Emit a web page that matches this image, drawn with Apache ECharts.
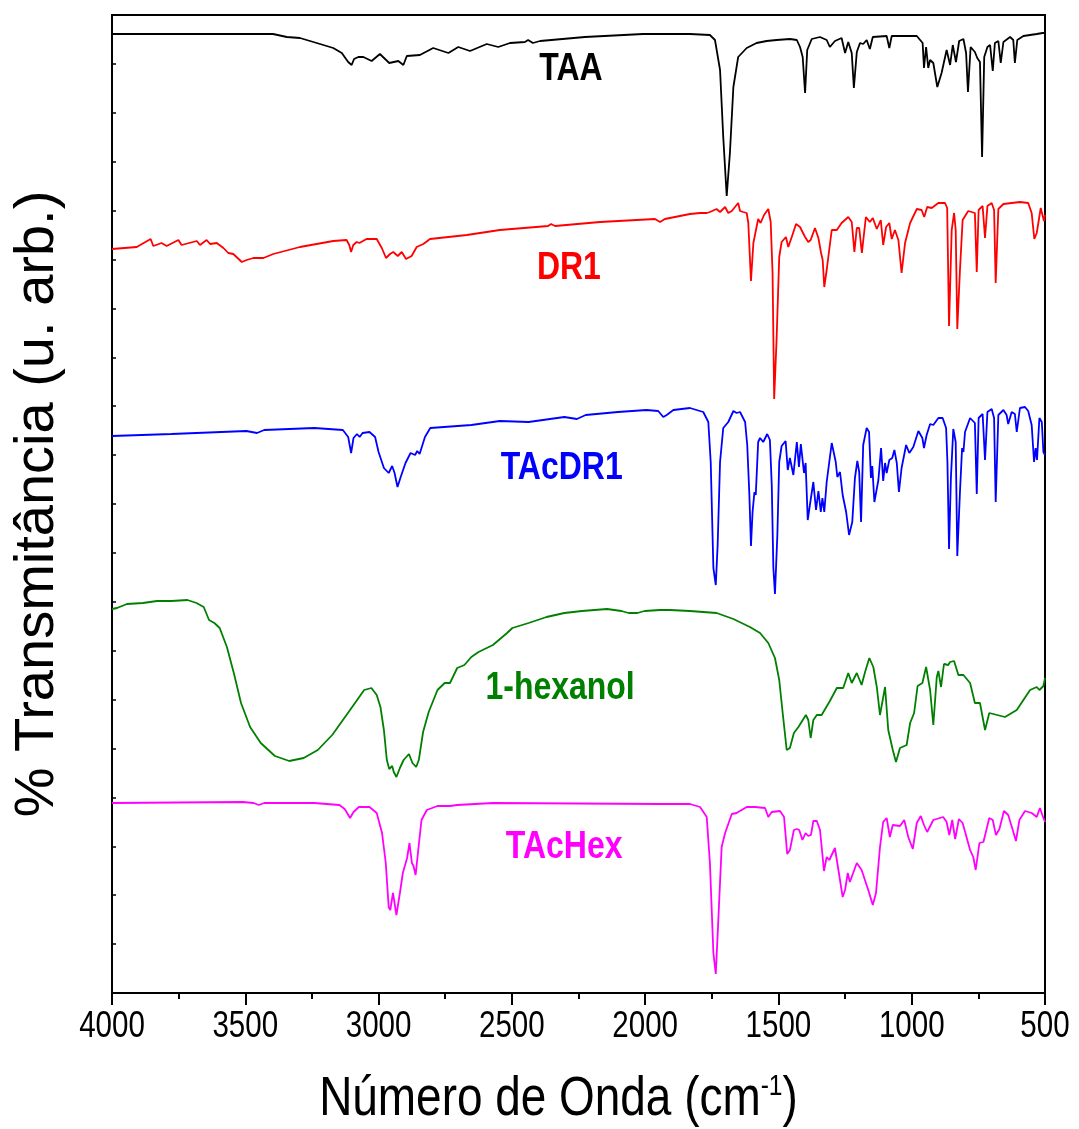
<!DOCTYPE html>
<html>
<head>
<meta charset="utf-8">
<script src="https://cdn.jsdelivr.net/npm/echarts@6/dist/echarts.min.js"></script>
<style>
  html, body { margin: 0; padding: 0; background: #fff; }
  #chart { width: 1079px; height: 1129px; }
</style>
</head>
<body>
<div id="chart"></div>
<script>
// espectros FTIR, [número de onda, transmitância (u. arb., já deslocada)]
const taa = [[4000,959],[3396,959],[3344,956],[3295,955],[3232,950],[3170,945],[3138,940],[3114,931],[3101,928],[3092,934],[3076,936],[3057,936],[3026,932],[2995,939],[2960,930],[2926,932],[2907,928],[2894,937],[2845,938],[2795,945],[2738,940],[2701,946],[2657,942],[2594,949],[2551,946],[2507,950],[2451,951],[2439,953],[2421,950],[2394,952],[2226,956],[2008,959],[1832,959],[1757,958],[1738,953],[1719,923],[1707,856],[1694,797],[1682,840],[1669,906],[1651,936],[1619,945],[1582,950],[1544,952],[1507,953],[1457,954],[1431,953],[1419,946],[1409,936],[1400,900],[1392,943],[1375,954],[1344,956],[1319,953],[1307,946],[1288,952],[1263,955],[1250,940],[1238,951],[1225,940],[1217,905],[1206,941],[1194,950],[1182,949],[1169,953],[1157,944],[1146,956],[1094,957],[1084,945],[1075,957],[981,957],[959,950],[954,925],[946,946],[938,925],[931,933],[919,930],[904,906],[888,920],[869,943],[856,928],[846,948],[834,931],[822,952],[806,954],[796,940],[789,901],[779,946],[763,941],[754,935],[744,931],[736,836],[728,936],[716,946],[706,948],[696,922],[688,950],[675,952],[666,930],[656,951],[631,956],[619,953],[613,930],[604,953],[581,957],[531,959],[509,960],[500,960]]

const dr1 = [[4000,744],[3907,746],[3855,754],[3845,747],[3814,750],[3795,747],[3751,753],[3739,748],[3682,752],[3670,748],[3645,753],[3632,749],[3607,750],[3582,745],[3564,740],[3545,739],[3513,731],[3495,733],[3470,735],[3432,735],[3395,739],[3295,746],[3170,752],[3120,753],[3110,748],[3103,741],[3095,748],[3082,751],[3072,750],[3045,754],[3007,754],[2988,745],[2972,735],[2957,739],[2945,741],[2928,737],[2913,741],[2897,734],[2876,737],[2857,746],[2832,749],[2807,754],[2669,758],[2545,763],[2364,767],[2353,769],[2338,767],[2169,771],[1963,774],[1944,771],[1926,774],[1832,779],[1794,780],[1769,780],[1757,781],[1732,784],[1719,781],[1700,786],[1688,780],[1675,782],[1651,790],[1644,782],[1632,781],[1619,780],[1613,770],[1603,712],[1594,750],[1588,750],[1576,774],[1567,770],[1554,778],[1538,784],[1529,771],[1522,720],[1516,594],[1507,653],[1497,736],[1488,751],[1472,756],[1463,746],[1450,756],[1434,769],[1419,766],[1400,756],[1388,751],[1379,753],[1363,765],[1350,755],[1340,740],[1334,733],[1328,706],[1319,723],[1300,763],[1281,763],[1263,770],[1238,776],[1225,771],[1215,741],[1206,765],[1197,765],[1187,740],[1172,776],[1157,771],[1146,775],[1131,764],[1116,773],[1107,748],[1096,766],[1084,770],[1075,754],[1063,763],[1050,753],[1038,720],[1025,750],[1006,770],[981,784],[963,783],[953,776],[942,786],[925,785],[900,790],[875,790],[867,785],[860,667],[850,763],[841,780],[835,763],[829,664],[819,723],[809,773],[788,782],[763,780],[756,721],[749,783],[734,787],[725,755],[716,787],[700,790],[691,783],[685,710],[675,784],[656,789],[594,791],[563,790],[550,780],[540,754],[531,760],[516,785],[504,772],[500,778]]

const tacdr1 = [[4000,557],[3777,559],[3496,562],[3456,560],[3429,563],[3241,565],[3134,563],[3114,556],[3103,540],[3094,555],[3081,559],[3071,556],[3060,560],[3034,561],[3013,556],[3000,541],[2980,525],[2962,520],[2949,527],[2940,520],[2929,506],[2917,516],[2899,530],[2880,540],[2873,542],[2863,538],[2855,542],[2846,539],[2826,556],[2806,565],[2652,568],[2545,572],[2437,571],[2303,576],[2256,574],[2223,578],[2102,581],[1995,583],[1951,582],[1932,576],[1919,578],[1913,576],[1894,583],[1832,585],[1782,581],[1763,571],[1754,531],[1744,425],[1735,408],[1728,448],[1719,531],[1707,565],[1688,571],[1669,582],[1657,580],[1644,581],[1625,571],[1617,548],[1609,498],[1603,447],[1597,481],[1590,501],[1585,498],[1576,551],[1569,555],[1557,551],[1542,559],[1532,553],[1525,508],[1519,425],[1513,399],[1504,458],[1497,531],[1488,547],[1482,546],[1473,552],[1465,523],[1457,535],[1444,518],[1431,551],[1423,526],[1416,549],[1404,520],[1398,530],[1390,473],[1382,488],[1369,511],[1359,483],[1350,502],[1341,481],[1335,495],[1328,481],[1319,511],[1300,550],[1285,531],[1279,516],[1269,521],[1259,498],[1246,481],[1235,458],[1223,471],[1213,515],[1204,532],[1197,521],[1190,471],[1182,548],[1169,565],[1160,561],[1153,515],[1148,527],[1140,491],[1125,513],[1115,545],[1107,512],[1100,530],[1094,520],[1084,533],[1073,535],[1065,543],[1056,530],[1048,501],[1038,525],[1021,548],[1009,540],[994,546],[975,562],[960,555],[954,545],[944,558],[931,569],[919,568],[900,575],[884,575],[871,565],[866,531],[860,444],[853,515],[844,564],[835,551],[829,437],[819,501],[811,545],[806,541],[800,561],[781,575],[763,570],[756,499],[749,575],[734,579],[725,533],[716,581],[700,584],[691,575],[685,491],[675,578],[656,583],[644,578],[638,569],[625,581],[613,579],[606,561],[594,585],[575,586],[563,582],[550,568],[541,531],[535,545],[530,533],[521,575],[512,571],[506,541],[500,538]]

const hexanol = [[4000,384],[3981,385],[3944,389],[3884,390],[3831,392],[3777,392],[3717,393],[3683,390],[3656,386],[3636,373],[3616,370],[3596,365],[3569,346],[3543,320],[3516,290],[3482,266],[3442,250],[3389,237],[3335,232],[3281,235],[3228,243],[3174,258],[3107,283],[3054,303],[3027,305],[3007,298],[2993,286],[2980,263],[2969,233],[2960,224],[2949,227],[2943,221],[2933,216],[2920,225],[2906,233],[2886,239],[2873,230],[2859,226],[2849,233],[2833,261],[2812,281],[2779,303],[2752,310],[2732,310],[2705,325],[2678,328],[2652,336],[2625,341],[2571,348],[2518,360],[2498,365],[2437,370],[2370,376],[2303,380],[2237,382],[2143,384],[2089,382],[2062,380],[2029,380],[2002,382],[1944,383],[1907,383],[1832,382],[1732,380],[1669,374],[1607,366],[1569,360],[1538,350],[1513,335],[1497,313],[1484,280],[1469,243],[1457,245],[1442,260],[1425,266],[1397,278],[1388,273],[1379,255],[1369,273],[1356,278],[1338,278],[1307,292],[1281,305],[1257,305],[1238,320],[1225,310],[1206,320],[1188,308],[1175,321],[1159,335],[1144,326],[1131,306],[1119,278],[1100,306],[1088,263],[1071,243],[1059,231],[1044,245],[1019,248],[1006,270],[991,280],[978,307],[960,310],[946,326],[931,303],[919,268],[906,316],[900,322],[890,306],[879,329],[863,328],[856,331],[841,332],[825,318],[806,318],[781,310],[763,290],[744,290],[725,263],[709,280],[650,276],[606,283],[556,303],[531,306],[521,303],[506,307],[500,315]]

const tachex = [[4000,190],[3509,191],[3469,190],[3449,188],[3429,190],[3241,190],[3147,188],[3127,184],[3107,175],[3094,181],[3074,186],[3034,186],[3007,180],[2987,160],[2973,130],[2962,86],[2956,83],[2946,100],[2933,78],[2920,100],[2909,120],[2893,135],[2884,150],[2875,130],[2869,127],[2861,118],[2850,146],[2839,173],[2819,183],[2779,187],[2732,187],[2705,188],[2571,190],[1944,189],[1832,189],[1794,186],[1769,176],[1757,130],[1744,40],[1735,19],[1726,70],[1713,146],[1700,160],[1675,179],[1657,180],[1619,186],[1588,186],[1550,185],[1538,176],[1525,181],[1494,182],[1479,176],[1467,139],[1457,143],[1442,163],[1431,164],[1422,163],[1410,153],[1398,160],[1388,157],[1378,158],[1369,172],[1356,172],[1344,163],[1329,122],[1319,136],[1309,133],[1288,145],[1275,123],[1259,96],[1250,103],[1240,120],[1232,111],[1206,130],[1188,123],[1163,103],[1146,88],[1134,100],[1119,146],[1107,171],[1094,175],[1082,156],[1071,168],[1044,167],[1028,173],[1013,156],[996,144],[981,170],[966,177],[954,168],[942,161],[919,173],[882,176],[869,171],[859,158],[848,173],[837,154],[823,174],[809,170],[781,143],[769,136],[760,123],[746,150],[731,151],[709,175],[696,173],[684,158],[671,164],[654,182],[638,178],[621,163],[609,152],[596,173],[575,182],[550,180],[531,176],[519,185],[510,178],[500,171]]

const seriesNames = ['TAA', 'DR1', 'TAcDR1', '1-hexanol', 'TAcHex']
const seriesColors = ['#000000', '#ff0000', '#0000ff', '#008000', '#ff00ff']
const seriesData = [taa, dr1, tacdr1, hexanol, tachex]

// posição dos rótulos (número de onda, valor)
const labelPos = [[2278, 924], [2286, 725], [2313, 525], [2319, 305], [2304, 146]]

const xTickValues = [4000, 3500, 3000, 2500, 2000, 1500, 1000, 500]
const yRange = { min: 0, max: 978, step: 48.9 }

const FONT = "'Liberation Sans', Arial, sans-serif"
const SQUEEZE = 0.82 // a fonte original é estreita

const chart = echarts.init(document.getElementById('chart'))

const lines = seriesData.map((d, i) => ({
  name: seriesNames[i],
  type: 'line',
  data: d,
  showSymbol: false,
  silent: true,
  lineStyle: { color: seriesColors[i], width: 1.8 },
}))

chart.setOption({
  animation: false,
  backgroundColor: '#fff',
  grid: {
    left: 112,
    right: 34,
    top: 15,
    bottom: 136,
    show: true,
    borderColor: '#000',
    borderWidth: 2,
  },
  xAxis: {
    type: 'value',
    inverse: true,
    min: 500,
    max: 4000,
    interval: 500,
    axisLine: { lineStyle: { color: '#000', width: 2 } },
    axisTick: { show: true, inside: false, length: 12, lineStyle: { color: '#000', width: 2 } },
    minorTick: { show: true, splitNumber: 2, length: 6, lineStyle: { color: '#000', width: 2 } },
    axisLabel: { show: false },
    splitLine: { show: false },
  },
  yAxis: {
    type: 'value',
    min: yRange.min,
    max: yRange.max,
    interval: yRange.step,
    name: '% Transmitância (u. arb.)',
    nameLocation: 'middle',
    nameGap: 46,
    nameTextStyle: { fontFamily: FONT, fontSize: 56, color: '#000' },
    axisLine: { lineStyle: { color: '#000', width: 2 } },
    axisTick: { show: true, inside: true, length: 4, lineStyle: { color: '#000', width: 1.5 } },
    axisLabel: { show: false },
    splitLine: { show: false },
  },
  series: lines,
})

// textos estreitos: rótulos das curvas, rótulos dos ticks e título do eixo x
const toPx = (p) => chart.convertToPixel({ gridIndex: 0 }, p)
const axisY = toPx([500, 0])[1]

const graphics = []
labelPos.forEach((p, i) => {
  const [x, y] = toPx(p)
  graphics.push({
    type: 'text', x, y, scaleX: SQUEEZE, silent: true, z: 10,
    style: {
      text: seriesNames[i], fill: seriesColors[i],
      font: `bold 39px ${FONT}`, textAlign: 'center', textVerticalAlign: 'middle',
    },
  })
})
xTickValues.forEach((v) => {
  const x = toPx([v, 0])[0]
  graphics.push({
    type: 'text', x, y: axisY + 34, scaleX: SQUEEZE, silent: true,
    style: {
      text: String(v), fill: '#000',
      font: `36px ${FONT}`, textAlign: 'center', textVerticalAlign: 'middle',
    },
  })
})
const midX = (toPx([4000, 0])[0] + toPx([500, 0])[0]) / 2 - 20
graphics.push({
  type: 'text', x: midX, y: axisY + 107, scaleX: SQUEEZE, silent: true,
  style: {
    text: 'Número de Onda (cm{sup|-1})', fill: '#000',
    font: `56px ${FONT}`, textAlign: 'center', textVerticalAlign: 'middle',
    rich: {
      sup: { font: `30px ${FONT}`, fill: '#000', verticalAlign: 'top', lineHeight: 56, padding: [0, 0, 0, 0] },
    },
  },
})

chart.setOption({ graphic: graphics })
</script>
</body>
</html>
